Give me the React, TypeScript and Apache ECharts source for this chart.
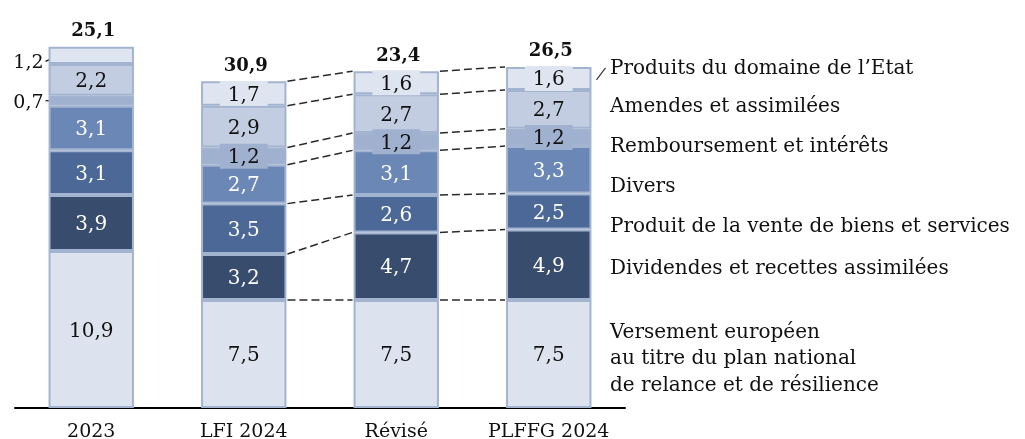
import React, { useEffect, useRef } from "react";
import * as echarts from "echarts";

const categories = ["2023", "LFI 2024", "Révisé", "PLFFG 2024"];
const versement = [10.9, 7.5, 7.5, 7.5];
const dividendes = [3.9, 3.2, 4.7, 4.9];
const venteBiens = [3.1, 3.5, 2.6, 2.5];
const divers = [3.1, 2.7, 3.1, 3.3];
const remboursement = [0.7, 1.2, 1.2, 1.2];
const amendes = [2.2, 2.9, 2.7, 2.7];
const domaine = [1.2, 1.7, 1.6, 1.6];
const totalLabels = [25.1, 30.9, 23.4, 26.5];

const seriesNames = [
  "Versement européen au titre du plan national de relance et de résilience",
  "Dividendes et recettes assimilées",
  "Produit de la vente de biens et services",
  "Divers",
  "Remboursement et intérêts",
  "Amendes et assimilées",
  "Produits du domaine de l’Etat",
];
const legendTexts = [
  "Produits du domaine de l’Etat",
  "Amendes et assimilées",
  "Remboursement et intérêts",
  "Divers",
  "Produit de la vente de biens et services",
  "Dividendes et recettes assimilées",
  "Versement européen\nau titre du plan national\nde relance et de résilience",
];
const legendCenters = [66.5, 105, 145, 185, 225, 266.5, 357];

const layers = [versement, dividendes, venteBiens, divers, remboursement, amendes, domaine];
const colors = ["#dde3ee", "#384c6e", "#4b6897", "#6a87b5", "#9fb1cf", "#c3cde1", "#dfe5f0"];
const labelColors = ["#111", "#fff", "#fff", "#fff", "#111", "#111", "#111"];
// segments whose label is drawn outside the bar (category index, layer index)
const outsideLabels: [number, number][] = [
  [0, 6],
  [0, 4],
];

const FONT = '"DejaVu Serif", serif';
const BAR_RATIO = 0.56;
const fmt = (v: number) => v.toFixed(1).replace(".", ",");

export default function App() {
  const ref = useRef<HTMLDivElement>(null);
  useEffect(() => {
    if (!ref.current) return;
    const chart = echarts.init(ref.current, undefined, { renderer: "svg" });

    const cum: number[][] = [];
    layers.forEach((arr, k) => {
      cum.push(arr.map((v, i) => v + (k > 0 ? cum[k - 1][i] : 0)));
    });

    const connectorData: number[][] = [];
    for (let i = 1; i < categories.length - 1; i++) {
      for (let k = 0; k < layers.length; k++) {
        connectorData.push([i, cum[k][i], i + 1, cum[k][i + 1]]);
      }
    }

    const barSeries = layers.map((arr, k) => ({
      type: "bar",
      name: seriesNames[k],
      stack: "total",
      barWidth: BAR_RATIO * 100 + "%",
      data: arr.map((v, i) => {
        const outside = outsideLabels.some(([c, l]) => c === i && l === k);
        return outside ? { value: v, label: { show: false } } : v;
      }),
      itemStyle: { color: colors[k], borderColor: "#a3b4d1", borderWidth: 2 },
      label: {
        show: true,
        position: "inside",
        formatter: (p: any) => fmt(p.value),
        color: labelColors[k],
        fontFamily: FONT,
        fontSize: 20,
        lineHeight: 21,
        backgroundColor: colors[k],
        padding: [2, 8],
      },
    }));

    const option: any = {
      animation: false,
      grid: { left: 15, width: 610, top: 5, height: 404 },
      xAxis: {
        type: "category",
        data: categories,
        axisLine: { lineStyle: { color: "#000", width: 2 } },
        axisTick: { show: false },
        axisLabel: { color: "#111", fontFamily: FONT, fontSize: 19, margin: 12, interval: 0 },
      },
      yAxis: { type: "value", min: 0, max: 28, show: false },
      series: [
        ...barSeries,
        {
          type: "custom",
          name: "connectors",
          data: connectorData,
          encode: { x: [0, 2], y: [1, 3] },
          z: 1,
          renderItem: (params: any, api: any) => {
            const p1 = api.coord([api.value(0), api.value(1)]);
            const p2 = api.coord([api.value(2), api.value(3)]);
            const half = (api.size([1, 0])[0] * BAR_RATIO) / 2 + 1;
            return {
              type: "line",
              shape: { x1: p1[0] + half, y1: p1[1], x2: p2[0] - half, y2: p2[1] },
              style: { stroke: "#2a2a2a", lineWidth: 1.5, lineDash: [8, 4] },
            };
          },
        },
        {
          type: "custom",
          name: "totals",
          data: totalLabels.map((t, i) => [i, cum[layers.length - 1][i], t]),
          encode: { x: 0, y: 1 },
          renderItem: (params: any, api: any) => {
            const p = api.coord([api.value(0), api.value(1)]);
            return {
              type: "text",
              x: p[0] + 2,
              y: p[1] - 8,
              style: {
                text: fmt(api.value(2)),
                fill: "#111",
                font: `bold 18px ${FONT}`,
                align: "center",
                verticalAlign: "bottom",
              },
            };
          },
        },
        {
          type: "custom",
          name: "outside",
          data: outsideLabels.map(([c, l]) => [c, cum[l][c] - layers[l][c] / 2, layers[l][c], l === layers.length - 1 ? 1 : 0]),
          encode: { x: 0, y: 1 },
          renderItem: (params: any, api: any) => {
            const p = api.coord([api.value(0), api.value(1)]);
            const half = (api.size([1, 0])[0] * BAR_RATIO) / 2 + 1;
            const left = p[0] - half;
            const slanted = api.value(3) === 1;
            const dy = slanted ? 6 : 0;
            return {
              type: "group",
              children: [
                {
                  type: "text",
                  x: left - 4,
                  y: p[1] + dy,
                  style: { text: fmt(api.value(2)), fill: "#111", font: `19px ${FONT}`, align: "right", verticalAlign: "middle" },
                },
                {
                  type: "line",
                  shape: { x1: left - 2, y1: p[1] + dy, x2: left + 11, y2: p[1] },
                  style: { stroke: "#111", lineWidth: 1.2 },
                },
              ],
            };
          },
        },
        {
          type: "custom",
          name: "leader",
          data: [[categories.length - 1, cum[layers.length - 1][categories.length - 1]]],
          encode: { x: 0, y: 1 },
          renderItem: (params: any, api: any) => {
            const p = api.coord([api.value(0), api.value(1)]);
            const half = (api.size([1, 0])[0] * BAR_RATIO) / 2 + 1;
            const right = p[0] + half;
            return {
              type: "line",
              shape: { x1: right + 4, y1: p[1] + 13, x2: right + 13, y2: p[1] + 1 },
              style: { stroke: "#333", lineWidth: 1.2 },
            };
          },
        },
      ],
      graphic: legendTexts.map((t, i) => ({
        type: "text",
        x: 610,
        y: legendCenters[i],
        style: { text: t, fill: "#111", font: `20px ${FONT}`, lineHeight: 26.5, verticalAlign: "middle" },
      })),
    };
    chart.setOption(option);
    return () => chart.dispose();
  }, []);
  return <div ref={ref} style={{ position: "fixed", left: 0, top: 0, width: 1025, height: 439 }} />;
}
